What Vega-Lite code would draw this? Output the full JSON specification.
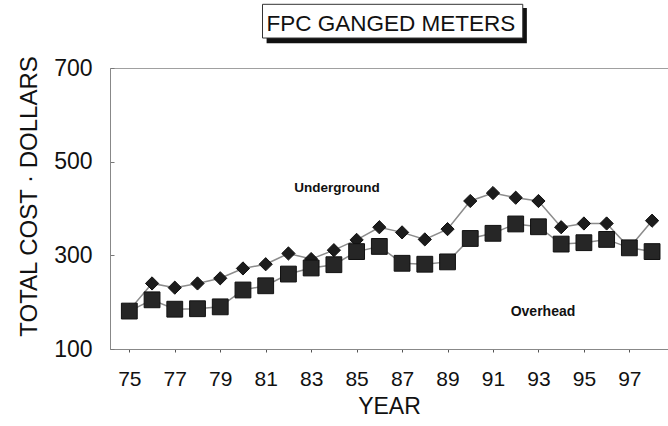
{
  "$schema": "https://vega.github.io/schema/vega-lite/v6.json",
  "width": 558,
  "height": 281,
  "autosize": {"type": "none"},
  "padding": {"left": 110, "top": 68, "right": 0, "bottom": 77},
  "background": "white",
  "config": {
    "view": {"stroke": "#a0a0a0", "strokeWidth": 1},
    "font": "Liberation Sans"
  },
  "datasets": {
    "costs": [
      {"year": 75, "type": "Underground", "cost": 183},
      {"year": 76, "type": "Underground", "cost": 240},
      {"year": 77, "type": "Underground", "cost": 231},
      {"year": 78, "type": "Underground", "cost": 240},
      {"year": 79, "type": "Underground", "cost": 251},
      {"year": 80, "type": "Underground", "cost": 272},
      {"year": 81, "type": "Underground", "cost": 281},
      {"year": 82, "type": "Underground", "cost": 304},
      {"year": 83, "type": "Underground", "cost": 292},
      {"year": 84, "type": "Underground", "cost": 311},
      {"year": 85, "type": "Underground", "cost": 333},
      {"year": 86, "type": "Underground", "cost": 360},
      {"year": 87, "type": "Underground", "cost": 349},
      {"year": 88, "type": "Underground", "cost": 334},
      {"year": 89, "type": "Underground", "cost": 356},
      {"year": 90, "type": "Underground", "cost": 416},
      {"year": 91, "type": "Underground", "cost": 433},
      {"year": 92, "type": "Underground", "cost": 423},
      {"year": 93, "type": "Underground", "cost": 416},
      {"year": 94, "type": "Underground", "cost": 360},
      {"year": 95, "type": "Underground", "cost": 368},
      {"year": 96, "type": "Underground", "cost": 368},
      {"year": 97, "type": "Underground", "cost": 316},
      {"year": 98, "type": "Underground", "cost": 374},
      {"year": 75, "type": "Overhead", "cost": 181},
      {"year": 76, "type": "Overhead", "cost": 205},
      {"year": 77, "type": "Overhead", "cost": 185},
      {"year": 78, "type": "Overhead", "cost": 186},
      {"year": 79, "type": "Overhead", "cost": 190},
      {"year": 80, "type": "Overhead", "cost": 226},
      {"year": 81, "type": "Overhead", "cost": 235},
      {"year": 82, "type": "Overhead", "cost": 260},
      {"year": 83, "type": "Overhead", "cost": 273},
      {"year": 84, "type": "Overhead", "cost": 280},
      {"year": 85, "type": "Overhead", "cost": 308},
      {"year": 86, "type": "Overhead", "cost": 319},
      {"year": 87, "type": "Overhead", "cost": 283},
      {"year": 88, "type": "Overhead", "cost": 281},
      {"year": 89, "type": "Overhead", "cost": 286},
      {"year": 90, "type": "Overhead", "cost": 336},
      {"year": 91, "type": "Overhead", "cost": 347},
      {"year": 92, "type": "Overhead", "cost": 367},
      {"year": 93, "type": "Overhead", "cost": 361},
      {"year": 94, "type": "Overhead", "cost": 324},
      {"year": 95, "type": "Overhead", "cost": 327},
      {"year": 96, "type": "Overhead", "cost": 334},
      {"year": 97, "type": "Overhead", "cost": 316},
      {"year": 98, "type": "Overhead", "cost": 308}
    ]
  },
  "layer": [
    {
      "data": {"values": [{}]},
      "mark": {"type": "rect", "color": "#111111"},
      "encoding": {
        "x": {"datum": 81.04, "type": "quantitative", "scale": {"domain": [74.15, 98.7]}},
        "x2": {"datum": 92.49},
        "y": {"datum": 828, "type": "quantitative", "scale": {"domain": [100, 700]}},
        "y2": {"datum": 753}
      }
    },
    {
      "data": {"values": [{}]},
      "mark": {"type": "rect", "fill": "white", "stroke": "#333333", "strokeWidth": 1},
      "encoding": {
        "x": {"datum": 80.86, "type": "quantitative"},
        "x2": {"datum": 92.31},
        "y": {"datum": 836, "type": "quantitative"},
        "y2": {"datum": 764}
      }
    },
    {
      "data": {"values": [{}]},
      "mark": {"type": "text", "font": "Liberation Sans", "fontSize": 22.5, "color": "#111111", "baseline": "alphabetic", "align": "center"},
      "encoding": {
        "x": {"datum": 86.51, "type": "quantitative"},
        "y": {"datum": 780, "type": "quantitative"},
        "text": {"value": "FPC GANGED METERS"}
      }
    },
    {
      "data": {"name": "costs"},
      "mark": {"type": "line", "color": "#8c8c8c", "strokeWidth": 1.5},
      "encoding": {
        "x": {
          "field": "year",
          "type": "quantitative",
          "scale": {"domain": [74.15, 98.7], "nice": false, "zero": false},
          "axis": {
            "title": "YEAR",
            "values": [75, 76, 77, 78, 79, 80, 81, 82, 83, 84, 85, 86, 87, 88, 89, 90, 91, 92, 93, 94, 95, 96, 97, 98],
            "labelExpr": "datum.value % 2 === 1 ? datum.label : ''",
            "labelOverlap": false,
            "labelFont": "Liberation Sans",
            "labelFontSize": 21,
            "labelColor": "#111111",
            "labelPadding": 16,
            "titleFont": "Liberation Sans",
            "titleFontSize": 23,
            "titleFontWeight": "normal",
            "titleColor": "#111111",
            "titlePadding": 6,
            "domainColor": "#888888",
            "tickColor": "#555555",
            "tickSize": 3,
            "grid": false
          }
        },
        "y": {
          "field": "cost",
          "type": "quantitative",
          "scale": {"domain": [100, 700], "nice": false, "zero": false},
          "axis": {
            "title": "TOTAL COST · DOLLARS",
            "values": [100, 300, 500, 700],
            "labelFont": "Liberation Sans",
            "labelFontSize": 23,
            "labelColor": "#111111",
            "labelPadding": 22,
            "tickSize": -4,
            "tickColor": "#777777",
            "titleFont": "Liberation Sans",
            "titleFontSize": 24,
            "titleFontWeight": "normal",
            "titleColor": "#111111",
            "titlePadding": 12,
            "titleY": 128,
            "domainColor": "#888888",
            "grid": false
          }
        },
        "detail": {"field": "type"}
      }
    },
    {
      "data": {"name": "costs"},
      "mark": {"type": "point", "filled": true, "opacity": 1},
      "encoding": {
        "x": {"field": "year", "type": "quantitative"},
        "y": {"field": "cost", "type": "quantitative"},
        "shape": {"field": "type", "type": "nominal", "scale": {"domain": ["Underground", "Overhead"], "range": ["diamond", "square"]}, "legend": null},
        "size": {"field": "type", "type": "nominal", "scale": {"domain": ["Underground", "Overhead"], "range": [175, 250]}, "legend": null},
        "color": {"field": "type", "type": "nominal", "scale": {"domain": ["Underground", "Overhead"], "range": ["#1c1c1c", "#262626"]}, "legend": null},
        "stroke": {"value": "#111111"},
        "strokeWidth": {"value": 1}
      }
    },
    {
      "data": {"values": [{}]},
      "mark": {"type": "text", "font": "Liberation Sans", "fontWeight": "bold", "fontSize": 13.5, "color": "#111111"},
      "encoding": {
        "x": {"datum": 84.14, "type": "quantitative"},
        "y": {"datum": 444, "type": "quantitative"},
        "text": {"value": "Underground"}
      }
    },
    {
      "data": {"values": [{}]},
      "mark": {"type": "text", "font": "Liberation Sans", "fontWeight": "bold", "fontSize": 14, "color": "#111111"},
      "encoding": {
        "x": {"datum": 93.2, "type": "quantitative"},
        "y": {"datum": 179, "type": "quantitative"},
        "text": {"value": "Overhead"}
      }
    }
  ]
}
